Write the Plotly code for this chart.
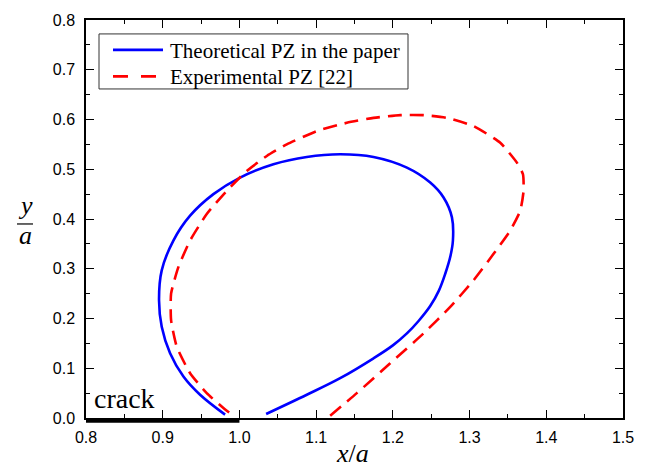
import plotly.graph_objects as go

# Theoretical plastic zone (solid blue)
theo_x = [1.0348, 1.0878, 1.1313, 1.1748, 1.2000, 1.2183, 1.2335, 1.2487, 1.2600, 1.2683, 1.2750, 1.2783,
          1.2770, 1.2661, 1.2487, 1.2183, 1.1748, 1.1313, 1.0878, 1.0443, 1.0009, 0.9661, 0.9357,
          0.9139, 0.8987, 0.8952, 0.8987, 0.9096, 0.9270, 0.9487, 0.9813]
theo_y = [0.008, 0.0467, 0.080, 0.1200, 0.1460, 0.1700, 0.1950, 0.2250, 0.2560, 0.2900, 0.3250, 0.3567,
          0.4033, 0.4433, 0.4733, 0.5033, 0.5247, 0.530, 0.5247, 0.510, 0.4833, 0.450, 0.4067,
          0.3567, 0.2967, 0.2367, 0.1833, 0.130, 0.0833, 0.0467, 0.0067]

# Experimental plastic zone [22] (dashed red)
exp_x = [1.1183, 1.1530, 1.1965, 1.2400, 1.2748, 1.3052, 1.3313, 1.3530, 1.3661, 1.3704,
         1.3696, 1.3617, 1.3400, 1.3052, 1.2704, 1.2400, 1.2096, 1.1748, 1.1400, 1.1009,
         1.0617, 1.0357, 1.0096, 0.9835, 0.9574, 0.9357, 0.9204, 0.9109, 0.9109, 0.9183,
         0.9357, 0.9574, 0.9791, 0.9943]
exp_y = [0.0047, 0.050, 0.110, 0.170, 0.2233, 0.2767, 0.330, 0.3767, 0.4167, 0.4567,
         0.490, 0.5133, 0.5533, 0.5867, 0.6033, 0.6087, 0.6087, 0.6033, 0.5933, 0.5767,
         0.550, 0.5267, 0.4967, 0.4567, 0.410, 0.3567, 0.3033, 0.250, 0.1967, 0.1433,
         0.090, 0.050, 0.020, 0.002]

crack_x = [0.8, 1.0]

x_ticks = [0.8, 0.9, 1.0, 1.1, 1.2, 1.3, 1.4, 1.5]
x_labels = ["0.8", "0.9", "1.0", "1.1", "1.2", "1.3", "1.4", "1.5"]
y_ticks = [0.0, 0.1, 0.2, 0.3, 0.4, 0.5, 0.6, 0.7, 0.8]
y_labels = ["0.0", "0.1", "0.2", "0.3", "0.4", "0.5", "0.6", "0.7", "0.8"]

legend_names = ["Theoretical PZ in the paper", "Experimental PZ [22]"]

BLUE = "#0000FF"
RED = "#FF0000"
SERIF = "Liberation Serif, Times New Roman, serif"
SANS = "Liberation Sans, Arial, sans-serif"

fig = go.Figure()
fig.add_trace(go.Scatter(x=theo_x, y=theo_y, mode="lines", name=legend_names[0],
                         line=dict(color=BLUE, width=2.6, shape="spline", smoothing=1.0),
                         showlegend=False))
fig.add_trace(go.Scatter(x=exp_x, y=exp_y, mode="lines", name=legend_names[1],
                         line=dict(color=RED, width=2.6, dash="14px,8px", shape="spline", smoothing=0.5),
                         showlegend=False))

axis_common = dict(
    showline=True, linecolor="black", linewidth=1.5, mirror="allticks",
    ticks="inside", ticklen=8, tickwidth=1.3, tickcolor="black",
    showgrid=False, zeroline=False,
    tickfont=dict(family=SANS, size=16, color="black"),
)

fig.update_xaxes(range=[0.8, 1.5], tickvals=x_ticks, ticktext=x_labels,
                 minor=dict(dtick=0.05, ticklen=4, tickwidth=1.3, tickcolor="black", ticks="inside"),
                 ticklabelstandoff=4, **axis_common)
fig.update_yaxes(range=[0.0, 0.8], tickvals=y_ticks, ticktext=y_labels,
                 minor=dict(dtick=0.05, ticklen=4, tickwidth=1.3, tickcolor="black", ticks="inside"),
                 ticklabelstandoff=6, **axis_common)

W, H = 648, 473
L, R, T, B = 86, 25, 18, 55
pw, ph = W - L - R, H - T - B

def px(xp):
    return (xp - L) / pw

def py(yp):
    return 1 - (yp - T) / ph

shapes = []
# crack line on the x axis
shapes.append(dict(type="line", xref="x", yref="paper", x0=crack_x[0], x1=crack_x[1], y0=py(420.5), y1=py(420.5),
                   line=dict(color="black", width=4.5), layer="above"))
# legend box
shapes.append(dict(type="rect", xref="paper", yref="paper", x0=px(99), x1=px(408), y0=py(87.3), y1=py(32),
                   line=dict(color="#333333", width=1), fillcolor="white", layer="above"))
shapes.append(dict(type="line", xref="paper", yref="paper", x0=px(113), x1=px(163), y0=py(48), y1=py(48),
                   line=dict(color=BLUE, width=2.6), layer="above"))
shapes.append(dict(type="line", xref="paper", yref="paper", x0=px(113), x1=px(163), y0=py(74.7), y1=py(74.7),
                   line=dict(color=RED, width=2.6, dash="15px,13px"), layer="above"))
# y-title fraction bar
shapes.append(dict(type="line", xref="paper", yref="paper", x0=px(17), x1=px(33), y0=py(223), y1=py(223),
                   line=dict(color="black", width=1.2)))

annotations = [
    dict(text=legend_names[0], xref="paper", yref="paper", x=px(168), y=py(49), xanchor="left", yanchor="middle",
         showarrow=False, font=dict(family=SERIF, size=21, color="black")),
    dict(text=legend_names[1], xref="paper", yref="paper", x=px(168), y=py(75), xanchor="left", yanchor="middle",
         showarrow=False, font=dict(family=SERIF, size=21, color="black")),
    dict(text="crack", xref="x", yref="paper", x=0.808, y=py(398), xanchor="left", yanchor="middle",
         showarrow=False, font=dict(family=SERIF, size=28, color="black")),
    dict(text="<i>x</i>/<i>a</i>", xref="paper", yref="paper", x=px(352), y=py(454), xanchor="center", yanchor="middle",
         showarrow=False, font=dict(family=SERIF, size=26, color="black")),
    dict(text="<i>y</i>", xref="paper", yref="paper", x=px(25.5), y=py(204), xanchor="center", yanchor="middle",
         showarrow=False, font=dict(family=SERIF, size=26, color="black")),
    dict(text="<i>a</i>", xref="paper", yref="paper", x=px(25), y=py(235), xanchor="center", yanchor="middle",
         showarrow=False, font=dict(family=SERIF, size=26, color="black")),
]

fig.update_layout(
    width=W, height=H,
    margin=dict(l=L, r=R, t=T, b=B, pad=0),
    paper_bgcolor="white", plot_bgcolor="white",
    shapes=shapes, annotations=annotations,
    showlegend=False,
)

fig.write_html("out.html")
